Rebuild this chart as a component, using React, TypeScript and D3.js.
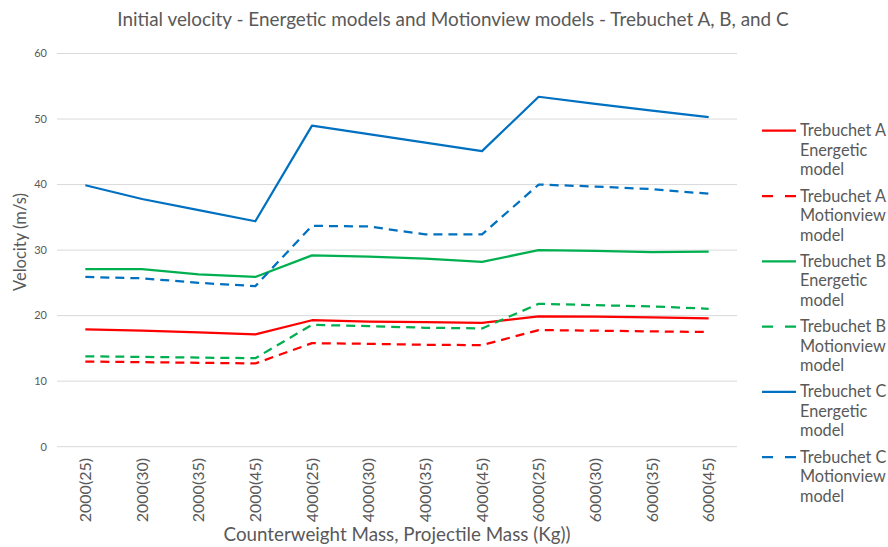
import React from 'react'
import * as d3 from 'd3'

const categories = [
  '2000(25)', '2000(30)', '2000(35)', '2000(45)',
  '4000(25)', '4000(30)', '4000(35)', '4000(45)',
  '6000(25)', '6000(30)', '6000(35)', '6000(45)',
]

const trebAEnergetic = [17.9, 17.7, 17.45, 17.15, 19.3, 19.1, 19.0, 18.9, 19.9, 19.85, 19.75, 19.6]
const trebAMotionview = [13.0, 12.9, 12.8, 12.7, 15.8, 15.7, 15.55, 15.5, 17.8, 17.7, 17.6, 17.5]
const trebBEnergetic = [27.1, 27.1, 26.3, 25.9, 29.2, 29.0, 28.7, 28.2, 30.0, 29.9, 29.7, 29.75]
const trebBMotionview = [13.8, 13.7, 13.6, 13.5, 18.6, 18.4, 18.15, 18.05, 21.8, 21.6, 21.4, 21.05]
const trebCEnergetic = [39.9, 37.8, 36.1, 34.4, 49.0, 47.7, 46.4, 45.1, 53.4, 52.3, 51.3, 50.3]
const trebCMotionview = [25.9, 25.7, 25.0, 24.5, 33.7, 33.6, 32.4, 32.4, 40.0, 39.7, 39.3, 38.6]

const yTicks = [0, 10, 20, 30, 40, 50, 60]

const seriesNames = [
  ['Trebuchet A', 'Energetic', 'model'],
  ['Trebuchet A', 'Motionview', 'model'],
  ['Trebuchet B', 'Energetic', 'model'],
  ['Trebuchet B', 'Motionview', 'model'],
  ['Trebuchet C', 'Energetic', 'model'],
  ['Trebuchet C', 'Motionview', 'model'],
]

const series = [
  { values: trebAEnergetic, color: '#FF0000', dashed: false },
  { values: trebAMotionview, color: '#FF0000', dashed: true },
  { values: trebBEnergetic, color: '#00B050', dashed: false },
  { values: trebBMotionview, color: '#00B050', dashed: true },
  { values: trebCEnergetic, color: '#0070C0', dashed: false },
  { values: trebCMotionview, color: '#0070C0', dashed: true },
]

const width = 888
const height = 547
const plotLeft = 57
const plotRight = 737
const plotTop = 53.5
const plotBottom = 446.7
const textColor = '#595959'
const font = 'Lato, "Open Sans", sans-serif'
const dash = '9,6'

export default function App() {
  const x = d3.scalePoint<string>()
    .domain(categories)
    .range([plotLeft, plotRight])
    .padding(0.5)

  const y = d3.scaleLinear()
    .domain([0, 60])
    .range([plotBottom, plotTop])

  const line = d3.line<number>()
    .x((d, i) => x(categories[i]) as number)
    .y((d) => y(d))

  const legendX = 762
  const legendTop = 130.7
  const legendStep = 65.3

  return (
    <svg width={width} height={height}
      style={{ position: 'absolute', left: 0, top: 0, background: '#fff' }}
      fontFamily={font}>
      <text x={453} y={26} textAnchor="middle" fontSize={18.9} fill={textColor}>
        Initial velocity - Energetic models and Motionview models - Trebuchet A, B, and C
      </text>

      {/* grid + y ticks */}
      {yTicks.map((t) => (
        <g key={t}>
          <line x1={plotLeft} x2={plotRight} y1={y(t)} y2={y(t)} stroke="#d9d9d9" strokeWidth={1} />
          <text x={47} y={y(t)} dy="0.35em" textAnchor="end" fontSize={11} fill={textColor}>{t}</text>
        </g>
      ))}

      <text transform={`translate(20,242) rotate(-90)`}
        textAnchor="middle" dy="0.35em" fontSize={16.5} fill={textColor}>
        Velocity (m/s)
      </text>

      {/* x tick labels */}
      {categories.map((c) => (
        <text key={c} transform={`translate(${x(c)},458) rotate(-90)`}
          textAnchor="end" dy="0.35em" fontSize={16} fill={textColor}>{c}</text>
      ))}

      <text x={(plotLeft + plotRight) / 2} y={541} textAnchor="middle" fontSize={18.8} fill={textColor}>
        Counterweight Mass, Projectile Mass (Kg))
      </text>

      {/* series */}
      {series.map((s, i) => (
        <path key={i} d={line(s.values) || ''} fill="none" stroke={s.color}
          strokeWidth={2.25} strokeDasharray={s.dashed ? dash : undefined}
          strokeLinejoin="round" />
      ))}

      {/* legend */}
      {series.map((s, i) => {
        const ly = legendTop + i * legendStep
        return (
          <g key={i}>
            <line x1={legendX} x2={legendX + 34} y1={ly} y2={ly} stroke={s.color} strokeWidth={2.25}
              strokeDasharray={s.dashed ? '11,12' : undefined} />
            {seriesNames[i].map((t, j) => (
              <text key={j} x={legendX + 38} y={ly + 5.5 + j * 19.5} fontSize={16.3} fill={textColor}>{t}</text>
            ))}
          </g>
        )
      })}
    </svg>
  )
}
